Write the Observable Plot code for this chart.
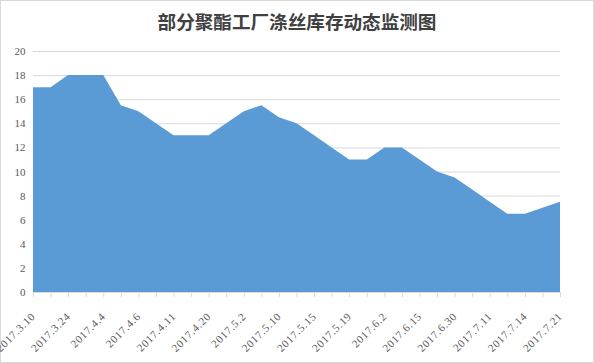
<!DOCTYPE html>
<html>
<head>
<meta charset="utf-8">
<script src="https://cdn.jsdelivr.net/npm/d3@7"></script>
<script src="https://cdn.jsdelivr.net/npm/@observablehq/plot@0.6"></script>
<style>
  body { margin: 0; background: #fff; }
  #wrap { position: relative; width: 594px; height: 363px; box-shadow: inset 0 0 0 1px #d9d9d9; background: #fff; overflow: hidden; }
  #title { height: 40px; line-height: 42px; text-align: center; font-family: "Noto Sans CJK SC", sans-serif; font-weight: bold; font-size: 18.6px; color: #404040; }
  svg { display: block; background: transparent; }
  g[aria-label="x-axis tick label"] text { letter-spacing: 0.7px; }
</style>
</head>
<body>
<div id="wrap">
  <div id="title">部分聚酯工厂涤丝库存动态监测图</div>
  <div id="chart"></div>
</div>
<script>
const tickLabels = ["2017.3.10","2017.3.24","2017.4.4","2017.4.6","2017.4.11","2017.4.20","2017.5.2","2017.5.10","2017.5.15","2017.5.19","2017.6.2","2017.6.15","2017.6.30","2017.7.11","2017.7.14","2017.7.21"];
const inventory = [17,17,18,18,18,15.5,15,14,13,13,13,14,15,15.5,14.5,14,13,12,11,11,12,12,11,10,9.5,8.5,7.5,6.5,6.5,7,7.5];
const yTicks = [0,2,4,6,8,10,12,14,16,18,20];

const data = inventory.map((v, i) => ({i, v}));
const idx = d3.range(inventory.length);

const chart = Plot.plot({
  width: 594,
  height: 323,
  marginTop: 11,
  marginBottom: 71,
  marginLeft: 33,
  marginRight: 34,
  style: {background: "transparent", fontFamily: "'Liberation Serif', serif"},
  x: {domain: [0, inventory.length - 1], label: null},
  y: {domain: [0, 20], label: null},
  marks: [
    Plot.ruleY(yTicks.filter(d => d > 0), {stroke: "#d9d9d9", strokeWidth: 1}),
    Plot.areaY(data, {x: "i", y: "v", fill: "#5b9bd5", curve: "linear"}),
    Plot.ruleY([0], {stroke: "#d9d9d9", strokeWidth: 1}),
    Plot.axisY({ticks: yTicks, tickSize: 0, tickPadding: 8, fill: "#595959", fontSize: 11, label: null, tickFormat: d => String(d)}),
    Plot.axisX({ticks: idx, tickSize: 5, stroke: "#d9d9d9", fill: "#595959", fontSize: 11, tickRotate: -45, tickPadding: 17, dx: 0, label: null,
      tickFormat: i => (i % 2 === 0 ? tickLabels[i / 2] : "")})
  ]
});
document.getElementById("chart").appendChild(chart);
</script>
</body>
</html>
